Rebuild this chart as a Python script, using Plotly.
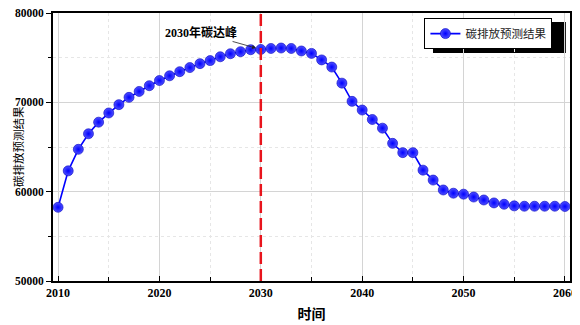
import plotly.graph_objects as go

# Forecast years and predicted carbon emissions
years = list(range(2010, 2061))
emissions = [
    58250, 62330, 64740, 66480, 67780, 68810, 69740, 70560, 71220, 71860,
    72440, 72970, 73430, 73890, 74330, 74670, 75100, 75440, 75670, 75890,
    75920, 76030, 76080, 76030, 75750, 75480, 74750, 73950, 72150, 70110,
    69140, 68080, 67110, 65410, 64370, 64370, 62410, 61300, 60190, 59830,
    59720, 59400, 59070, 58740, 58590, 58410, 58370, 58370, 58370, 58370,
    58340,
]
peak_year = 2030
peak_label = "2030年碳达峰"
series_name = "碳排放预测结果"
x_ticks = [2010, 2020, 2030, 2040, 2050, 2060]
y_ticks = [50000, 60000, 70000, 80000]

SERIF = "Liberation Serif, Times New Roman, serif"
CJK = "Noto Sans CJK SC"

fig = go.Figure()
fig.add_trace(
    go.Scatter(
        x=years,
        y=emissions,
        mode="lines+markers",
        name=series_name,
        line=dict(color="#0000ff", width=1.6),
        marker=dict(
            size=10,
            color="#5050ff",
            gradient=dict(type="radial", color="#0000ff"),
            line=dict(width=0.6, color="#0000c0"),
        ),
    )
)

# red dashed line marking the peak year
fig.add_shape(
    type="line", xref="x", yref="paper", x0=peak_year, x1=peak_year, y0=0, y1=1,
    line=dict(color="#e8141c", width=2.5, dash="12px,5px"),
)

peak_value = emissions[years.index(peak_year)]
fig.add_annotation(
    x=peak_year, y=peak_value, text="<b>" + peak_label + "</b>",
    showarrow=True, arrowhead=2, arrowsize=1, arrowwidth=0.8,
    arrowcolor="#222", ax=-60, ay=-17, standoff=5,
    font=dict(family=SERIF + ", " + CJK, size=12, color="black"),
)

# y axis title, placed by hand so it clears the tick labels
fig.add_annotation(
    xref="paper", yref="paper", x=0, y=0.5, xshift=-35,
    xanchor="center", yanchor="middle", textangle=-90, showarrow=False,
    text=series_name, font=dict(family=CJK, size=11.5, color="black"),
    borderpad=0,
)

# legend drop shadow
fig.add_shape(
    type="rect", xref="paper", yref="paper",
    x0=0.735, x1=0.992, y0=0.851, y1=0.966,
    fillcolor="black", line=dict(width=0), layer="below",
)

fig.update_layout(
    width=580,
    height=317,
    margin=dict(l=45, r=18, t=5, b=44),
    paper_bgcolor="white",
    plot_bgcolor="white",
    showlegend=True,
    legend=dict(
        x=0.966, y=0.981, xanchor="right", yanchor="top",
        bgcolor="white", bordercolor="black", borderwidth=1,
        font=dict(family=CJK, size=11.5, color="#222"),
        itemwidth=30,
    ),
    xaxis=dict(
        range=[2009.5, 2060.5],
        tickvals=x_ticks,
        automargin=False,
        ticklabeloverflow="allow",
        ticks="inside", ticklen=5, tickwidth=1.2, tickcolor="black",
        showline=True, linecolor="black", linewidth=1.8, mirror=True,
        showgrid=True, gridcolor="#d4d4d4", gridwidth=1,
        minor=dict(dtick=5, ticks="inside", ticklen=4, tickcolor="black",
                   showgrid=True, gridcolor="#e6e6e6", griddash="dot"),
        tickfont=dict(family=SERIF, size=12, color="black", weight="bold"),
        title=dict(text="<b>时间</b>", font=dict(family=CJK, size=14, color="black"),
                   standoff=10),
        zeroline=False,
    ),
    yaxis=dict(
        range=[50000, 80000],
        tickvals=y_ticks,
        tickformat="d",
        automargin=False,
        ticklabeloverflow="allow",
        ticks="outside", ticklen=5, tickwidth=1.2, tickcolor="black",
        showline=True, linecolor="black", linewidth=1.8, mirror=True,
        showgrid=True, gridcolor="#d4d4d4", gridwidth=1,
        minor=dict(dtick=5000, ticks="outside", ticklen=3, tickcolor="black",
                   showgrid=True, gridcolor="#e6e6e6", griddash="dot"),
        tickfont=dict(family=SERIF, size=11.5, color="black", weight="bold"),
        zeroline=False,
    ),
)

fig.write_html("out.html")
